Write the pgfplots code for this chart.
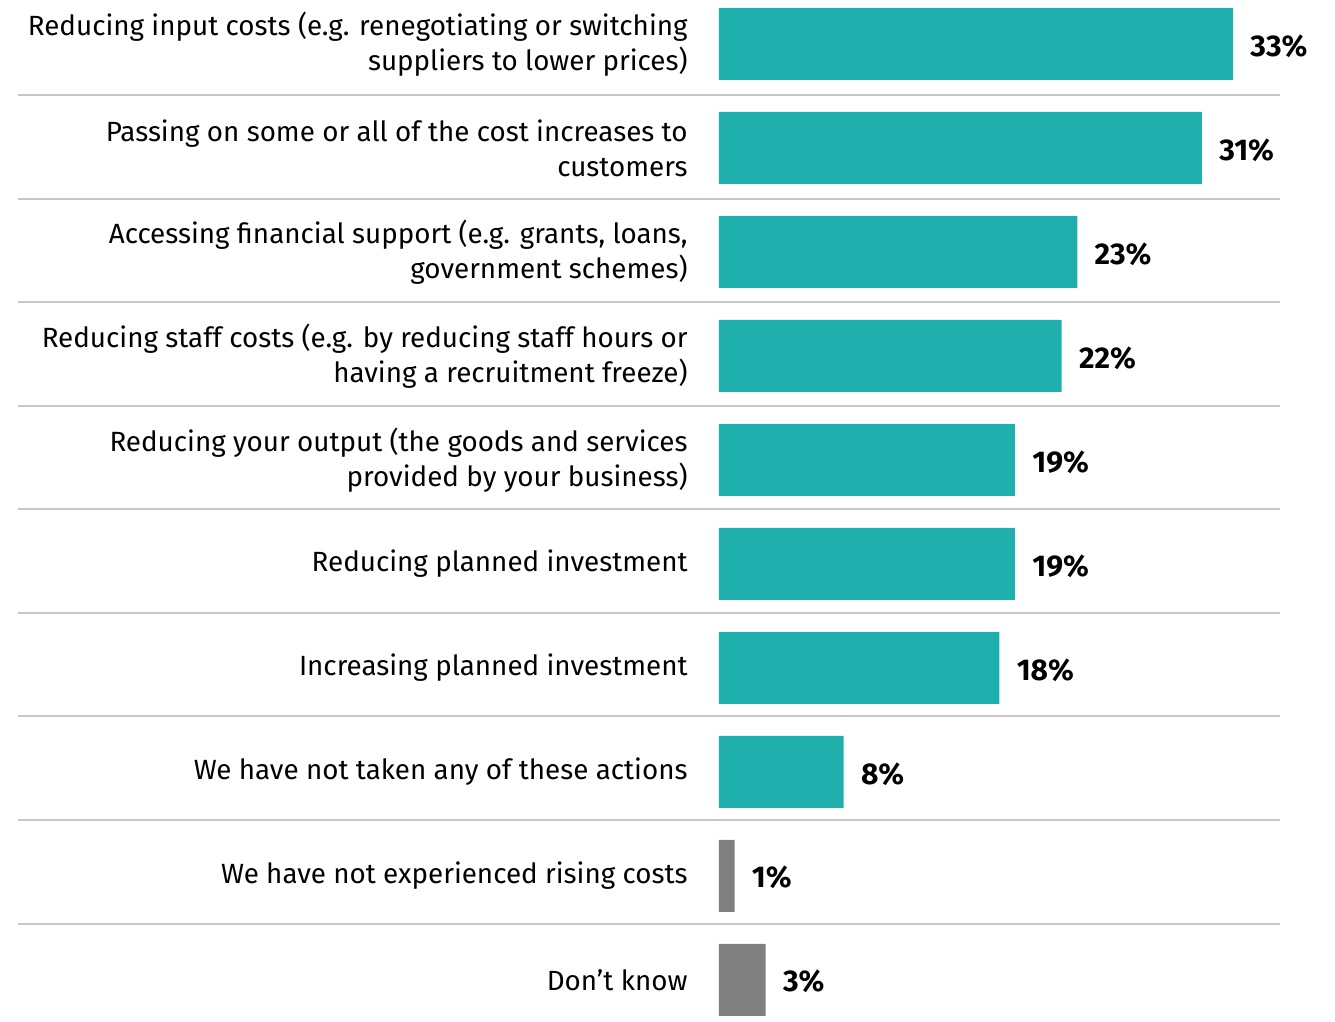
\documentclass[border=0pt]{standalone}
\usepackage{fontspec}
\setmainfont{Fira Sans}
\usepackage{pgfplots}
\pgfplotsset{compat=1.18}
\definecolor{teal1}{HTML}{1FAFAD}
\definecolor{grey1}{HTML}{808080}
\definecolor{sep}{HTML}{C8C8C8}

\begin{document}
\begin{tikzpicture}
\begin{axis}[
    scale only axis,
    width=280.5pt, height=511pt,
    xmin=0, xmax=36,
    ymin=-0.423, ymax=9.404,
    y dir=reverse,
    xbar, bar width=36pt, bar shift=0pt,
    axis line style={draw=none},
    major tick length=0pt,
    xtick=\empty,
    ytick={0,...,9},
    yticklabels={
      {Reducing input costs (e.g. renegotiating or switching\\suppliers to lower prices)},
      {Passing on some or all of the cost increases to\\customers},
      {Accessing financial support (e.g. grants, loans,\\government schemes)},
      {Reducing staff costs (e.g. by reducing staff hours or\\having a recruitment freeze)},
      {Reducing your output (the goods and services\\provided by your business)},
      {Reducing planned investment},
      {Increasing planned investment},
      {We have not taken any of these actions},
      {We have not experienced rising costs},
      {Don’t know}},
    yticklabel style={align=right, inner sep=0pt, xshift=-15.5pt,
      font=\fontsize{13.9}{17.5}\selectfont},
    clip=false,
    nodes near coords={\pgfmathprintnumber[assume math mode=true]{\pgfplotspointmeta}\%},
    nodes near coords style={font=\fontsize{15}{17}\selectfont\bfseries,
      anchor=west, inner sep=0pt, xshift=8.5pt, yshift=-1pt},
    point meta=x,
]
% separator lines between the rows
\foreach \k in {0.490,1.487,2.483,3.479,4.475,5.471,6.467,7.464,8.460}{
  \edef\tmp{\noexpand\draw[sep, line width=1pt] (axis cs:-45,\k) -- (axis cs:36,\k);}
  \tmp
}
\addplot[fill=teal1, draw=none] coordinates {
  (33,0) (31,1) (23,2) (22,3) (19,4) (19,5) (18,6) (8,7)
};
\addplot[fill=grey1, draw=none] coordinates {
  (1,8) (3,9)
};
\coordinate (bl) at (axis cs:-46.15,9.404);
\coordinate (tr) at (axis cs:39.54,-0.423);
\end{axis}
\pgfresetboundingbox
\useasboundingbox (bl) rectangle (tr);
\end{tikzpicture}
\end{document}
